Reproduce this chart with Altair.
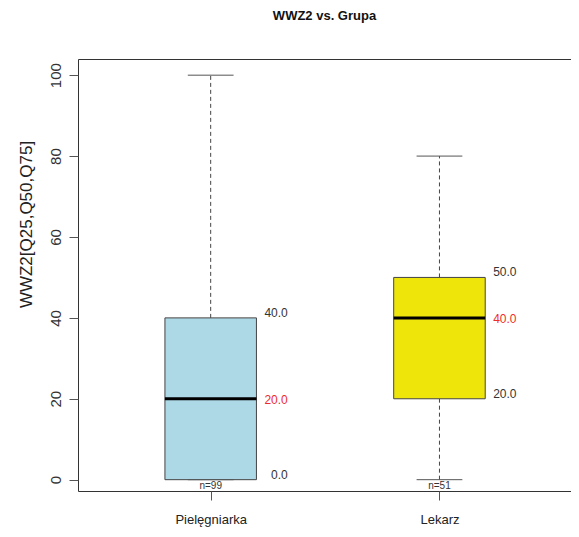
import altair as alt
import pandas as pd

# ---- data ----
groups = ["Pielęgniarka", "Lekarz"]
mins = [0, 0]
q1s = [0, 20]
medians = [20, 40]
q3s = [40, 50]
maxs = [100, 80]
counts = [99, 51]
fills = ["#ADD8E6", "#EEE60A"]
y_ticks = [0, 20, 40, 60, 80, 100]

REG = "'Liberation Sans', Arial, sans-serif"

pos = [i + 1 for i in range(len(groups))]
df = pd.DataFrame({
    "group": groups, "pos": pos, "min": mins, "q1": q1s, "med": medians,
    "q3": q3s, "max": maxs, "n": [f"n={c}" for c in counts], "fill": fills,
})

lab_q = pd.DataFrame({
    "pos": pos * 2,
    "val": q1s + q3s,
})
lab_q["txt"] = [f"{v:.1f}" for v in lab_q["val"]]
lab_m = pd.DataFrame({"pos": pos, "val": medians, "txt": [f"{v:.1f}" for v in medians]})

xs = alt.Scale(domain=[0.42, 2.575], nice=False, zero=False)
ys = alt.Scale(domain=[-2.8, 104], nice=False, zero=False)

label_expr = "[" + ",".join(f"'{g}'" for g in groups) + "][datum.value - 1]"

xaxis = alt.Axis(values=pos, labelExpr=label_expr, title=None, grid=False, domain=False,
                 tickSize=9, tickColor="#555", labelFont=REG, labelFontSize=13,
                 labelColor="#222", labelPadding=13, labelAngle=0)
yaxis = alt.Axis(values=y_ticks, title="WWZ2[Q25,Q50,Q75]", grid=False, domain=False,
                 tickSize=9, tickColor="#555", labelFont=REG, labelFontSize=15,
                 labelColor="#333", labelAngle=270, labelAlign="center",
                 labelBaseline="alphabetic", labelPadding=9,
                 titleFont=REG, titleFontSize=17, titleFontWeight="normal",
                 titleColor="#222", titleAngle=270, titleAlign="center",
                 titleBaseline="alphabetic", titleX=-47, titleY=165)


def X(field):
    return alt.X(field, scale=xs, axis=xaxis)


def Y(field):
    return alt.Y(field, scale=ys, axis=yaxis)


base = alt.Chart(df).transform_calculate(
    bl="datum.pos - 0.2", br="datum.pos + 0.2",
    cl="datum.pos - 0.1", cr="datum.pos + 0.1",
)

whisk_up = base.mark_rule(strokeDash=[4, 3], color="#444", strokeWidth=1).encode(
    x=X("pos:Q"), y=Y("q3:Q"), y2="max:Q",
)
whisk_lo = base.mark_rule(strokeDash=[4, 3], color="#444", strokeWidth=1).encode(
    x=X("pos:Q"), y=Y("min:Q"), y2="q1:Q",
)
cap_up = base.mark_rule(color="#555", strokeWidth=1).encode(
    x=X("cl:Q"), x2="cr:Q", y=Y("max:Q"),
)
cap_lo = base.mark_rule(color="#555", strokeWidth=1).encode(
    x=X("cl:Q"), x2="cr:Q", y=Y("min:Q"),
)
box = base.mark_rect(stroke="#444", strokeWidth=1).encode(
    x=X("bl:Q"), x2="br:Q", y=Y("q1:Q"), y2="q3:Q",
    fill=alt.Color("fill:N", scale=None),
)
median = base.mark_rule(color="black", strokeWidth=3).encode(
    x=X("bl:Q"), x2="br:Q", y=Y("med:Q"),
)
ntext = base.mark_text(font=REG, fontSize=10, color="#333", baseline="top", dy=1).encode(
    x=X("pos:Q"), y=Y("min:Q"), text="n:N",
)
qtext = alt.Chart(lab_q).transform_calculate(tx="datum.pos + 0.337").mark_text(
    font=REG, fontSize=12, color="#333", align="right", baseline="middle", dy=-5
).encode(
    x=X("tx:Q"), y=Y("val:Q"), text="txt:N",
)
mtext = alt.Chart(lab_m).transform_calculate(tx="datum.pos + 0.337").mark_text(
    font=REG, fontSize=12, color="#EE2C2C", align="right", baseline="middle", dy=1
).encode(
    x=X("tx:Q"), y=Y("val:Q"), text="txt:N",
)

chart = alt.layer(whisk_up, whisk_lo, cap_up, cap_lo, box, median, ntext, qtext, mtext).properties(
    width=493, height=432,
    title=alt.TitleParams("WWZ2 vs. Grupa", font=REG, fontSize=13, fontWeight="bold",
                          color="#111", anchor="middle", frame="group", offset=36),
    autosize=alt.AutoSizeParams(type="none"),
    padding={"left": 70, "top": 51, "right": 0, "bottom": 38},
).configure(background="white").configure_view(stroke="#333", strokeWidth=1)

chart.save("out.html", embed_options={"renderer": "svg", "actions": False})
